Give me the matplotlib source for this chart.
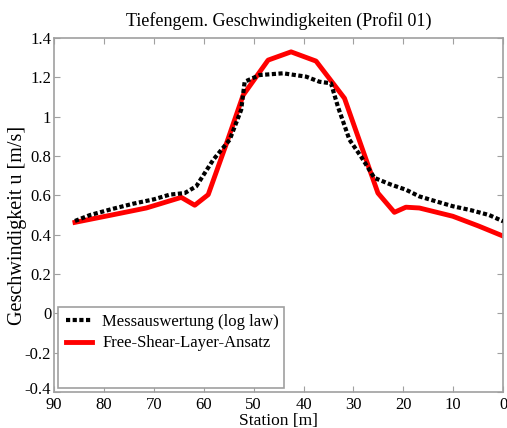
import matplotlib
matplotlib.use("Agg")
import matplotlib.pyplot as plt
import matplotlib.transforms as mtransforms
from matplotlib.patches import Rectangle

# Messwerte (log law)
station_mess = [85.8, 82.8, 78.5, 74.1, 70.0, 66.8, 63.8, 61.5, 58.1, 54.8, 52.5,
                51.8, 48.8, 44.1, 39.5, 36.8, 34.5, 33.1, 30.8, 28.5, 25.8,
                22.5, 19.5, 16.8, 13.5, 10.1, 6.5, 2.8, 0.0]
u_mess = [0.47, 0.50, 0.53, 0.558, 0.58, 0.604, 0.612, 0.646, 0.781, 0.883, 1.035,
          1.178, 1.212, 1.221, 1.204, 1.178, 1.17, 1.05, 0.883, 0.798, 0.689,
          0.655, 0.629, 0.595, 0.57, 0.545, 0.525, 0.50, 0.468]

# Free-Shear-Layer-Ansatz
station_fsl = [85.8, 78.5, 71.5, 64.5, 61.8, 59.1, 55.5, 52.1, 47.1, 42.5, 37.5,
               31.8, 25.1, 21.8, 19.5, 16.8, 10.1, 5.0, 0.0]
u_fsl = [0.463, 0.50, 0.536, 0.59, 0.55, 0.604, 0.86, 1.11, 1.288, 1.33, 1.283,
         1.094, 0.612, 0.514, 0.54, 0.536, 0.494, 0.445, 0.393]

xticks = [90, 80, 70, 60, 50, 40, 30, 20, 10, 0]
yticks = [-0.4, -0.2, 0, 0.2, 0.4, 0.6, 0.8, 1, 1.2, 1.4]
ytick_labels = ["-0.4", "-0.2", "0", "0.2", "0.4", "0.6", "0.8", "1", "1.2", "1.4"]

plt.rcParams["font.family"] = ["Liberation Serif", "DejaVu Serif"]
plt.rcParams["font.size"] = 12

fig = plt.figure(figsize=(5.07, 4.28), dpi=100)
ax = fig.add_axes([0.1065, 0.084, 0.886, 0.827])

ax.plot(station_mess, u_mess, color="black", linestyle=(0, (1, 0.6)), linewidth=3,
        label="Messauswertung (log law)", zorder=3)
ax.plot(station_fsl, u_fsl, color="red", linewidth=3.5,
        label="Free-Shear-Layer-Ansatz", zorder=2)

ax.set_xlim(90, 0)
ax.set_ylim(-0.4, 1.4)
ax.set_xticks(xticks)
ax.set_yticks(yticks)
ax.set_yticklabels(ytick_labels)
ax.tick_params(direction="in", top=True, right=True, length=4, width=0.8,
               color="#a0a0a0", labelsize=12)
ax.tick_params(axis="x", pad=3.5)
ax.tick_params(axis="y", pad=2)
for sp in ax.spines.values():
    sp.set_color("#a0a0a0")
    sp.set_linewidth(1.2)

# unterstes y-Label etwas anheben, damit es nicht mit "90" kollidiert
lbl = ax.yaxis.get_major_ticks()[0].label1
lbl.set_transform(lbl.get_transform() +
                  mtransforms.ScaledTranslation(0, 3 / 72, fig.dpi_scale_trans))

ax.set_title("Tiefengem. Geschwindigkeiten (Profil 01)", fontsize=13, pad=9)
ax.set_xlabel("Station [m]", fontsize=12.5, labelpad=0)
ax.set_ylabel("Geschwindigkeit u [m/s]", fontsize=14.5)
ax.yaxis.set_label_coords(-0.06, 0.47)

# Legendenrahmen groesser als der Inhalt
ax.add_patch(Rectangle((0.009, 0.012), 0.504, 0.227, transform=ax.transAxes,
                       facecolor="white", edgecolor="#a0a0a0", linewidth=1.2,
                       zorder=4))
leg = ax.legend(loc="upper left", bbox_to_anchor=(0.015, 0.236), frameon=False,
                fontsize=12, handlelength=1.6, handletextpad=0.6,
                labelspacing=0.35, borderaxespad=0.0, borderpad=0.3)
leg.set_zorder(5)

fig.savefig("out.png", dpi=100)
